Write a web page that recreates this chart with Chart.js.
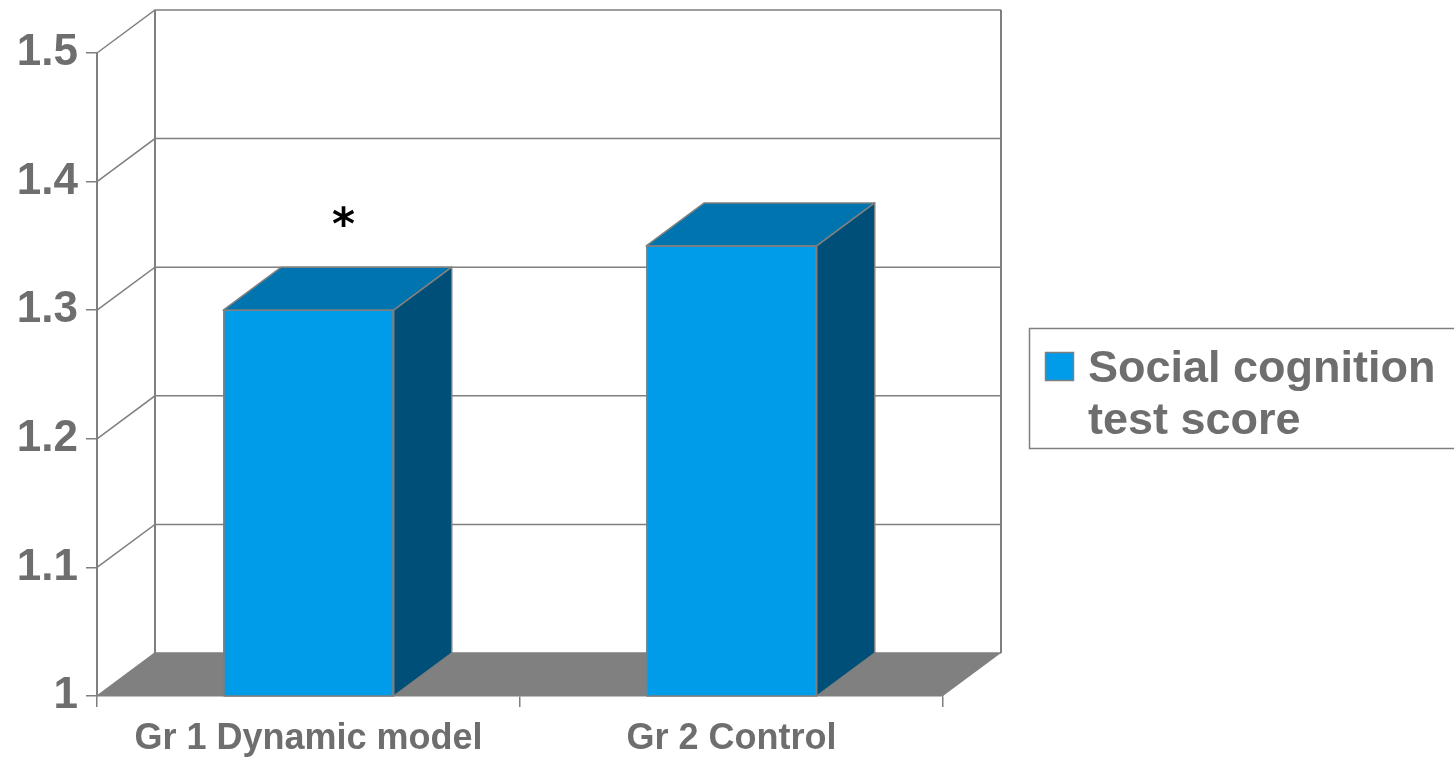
<!DOCTYPE html>
<html>
<head>
<meta charset="utf-8">
<script src="https://cdn.jsdelivr.net/npm/chart.js@4"></script>
<style>
  body { margin: 0; background: #fff; }
  #wrap { width: 1454px; height: 759px; position: relative; }
</style>
</head>
<body>
<div id="wrap"><canvas id="scoreChart"></canvas></div>
<script>
const groups = ["Gr 1 Dynamic model", "Gr 2 Control"];
const socialScores = [1.3, 1.35];
const marks = ["*", ""]; // significance mark over each bar
const legendLines = ["Social cognition", "test score"];
const yMin = 1;
const yMax = 1.5;
const yStep = 0.1;

// 3d depth of the plot box
const DX = 58, DY = 43;
const lineGrey = "#7f7f7f";
const textGrey = "#6e6e6e";
const frontBlue = "#009be9";
const topBlue = "#0074ae";
const sideBlue = "#004f78";
const floorGrey = "#808080";
const fontFam = "'Liberation Sans', Arial, sans-serif";

const wallPlugin = {
  id: "walls",
  beforeDatasetsDraw(chart) {
    const ctx = chart.ctx, a = chart.chartArea, ys = chart.scales.y;
    ctx.save();
    ctx.strokeStyle = lineGrey;
    ctx.lineWidth = 1.5;
    ys.ticks.forEach((t) => {
      const py = ys.getPixelForValue(t.value);
      ctx.beginPath();
      ctx.moveTo(a.left, py);
      ctx.lineTo(a.left + DX, py - DY);
      ctx.lineTo(a.right + DX, py - DY);
      ctx.stroke();
    });
    ctx.lineWidth = 2;
    ctx.beginPath();
    ctx.moveTo(a.left + DX, a.top - DY);
    ctx.lineTo(a.left + DX, a.bottom - DY);
    ctx.moveTo(a.right + DX, a.top - DY);
    ctx.lineTo(a.right + DX, a.bottom - DY);
    ctx.stroke();
    // floor
    ctx.fillStyle = floorGrey;
    ctx.beginPath();
    ctx.moveTo(a.left, a.bottom);
    ctx.lineTo(a.right, a.bottom);
    ctx.lineTo(a.right + DX, a.bottom - DY);
    ctx.lineTo(a.left + DX, a.bottom - DY);
    ctx.closePath();
    ctx.fill();
    ctx.restore();
  },
  afterDatasetsDraw(chart) {
    const ctx = chart.ctx;
    const meta = chart.getDatasetMeta(0);
    const floorY = chart.scales.y.getPixelForValue(yMin);
    ctx.save();
    ctx.strokeStyle = lineGrey;
    ctx.lineWidth = 1.5;
    ctx.lineJoin = "round";
    meta.data.forEach((bar, i) => {
      const p = bar.getProps(["x", "y", "width"], true);
      const base = floorY;
      const l = p.x - p.width / 2, r = p.x + p.width / 2;
      ctx.fillStyle = topBlue;
      ctx.beginPath();
      ctx.moveTo(l, p.y);
      ctx.lineTo(l + DX, p.y - DY);
      ctx.lineTo(r + DX, p.y - DY);
      ctx.lineTo(r, p.y);
      ctx.closePath();
      ctx.fill();
      ctx.stroke();
      ctx.fillStyle = sideBlue;
      ctx.beginPath();
      ctx.moveTo(r, p.y);
      ctx.lineTo(r + DX, p.y - DY);
      ctx.lineTo(r + DX, base - DY);
      ctx.lineTo(r, base);
      ctx.closePath();
      ctx.fill();
      ctx.stroke();
      ctx.strokeRect(l + 0.75, p.y, p.width - 1.5, base - p.y);

      if (marks[i]) {
        ctx.font = "bold 44px 'DejaVu Sans', sans-serif";
        ctx.fillStyle = "#000";
        ctx.textAlign = "center";
        ctx.textBaseline = "alphabetic";
        const m = ctx.measureText(marks[i]);
        const cy = p.y - DY - 51;
        ctx.fillText(marks[i], p.x + DX / 2 + 6, cy + (m.actualBoundingBoxAscent - m.actualBoundingBoxDescent) / 2);
      }
    });
    ctx.restore();
  },
  afterDraw(chart) {
    const ctx = chart.ctx;
    ctx.save();
    ctx.strokeStyle = lineGrey;
    ctx.lineWidth = 1.5;
    ctx.strokeRect(1029.5, 328.5, 500, 120);
    ctx.fillStyle = frontBlue;
    ctx.fillRect(1045, 352, 29, 29);
    ctx.strokeRect(1045.5, 352.5, 28, 28);
    ctx.font = "bold 45px " + fontFam;
    ctx.fillStyle = textGrey;
    ctx.textBaseline = "alphabetic";
    legendLines.forEach((line, i) => ctx.fillText(line, 1088, 382 + i * 52));
    ctx.restore();
  }
};

const ctx = document.getElementById("scoreChart");
const scoreChart = new Chart(ctx, {
  type: "bar",
  data: {
    labels: groups,
    datasets: [
      {
        label: legendLines.join(" "),
        data: socialScores,
        backgroundColor: frontBlue,
        borderWidth: 0,
        categoryPercentage: 1,
        barPercentage: 0.403,
      },
    ],
  },
  options: {
    responsive: true,
    maintainAspectRatio: false,
    animation: false,
    layout: { padding: { top: 53, right: 511, left: 0, bottom: 0 } },
    plugins: {
      legend: { display: false },
      tooltip: { enabled: false },
    },
    scales: {
      x: {
        grid: { drawOnChartArea: false, tickLength: 11, color: lineGrey, lineWidth: 1.5 },
        border: { color: lineGrey, width: 1.5 },
        ticks: {
          color: textGrey,
          padding: 14,
          font: { family: fontFam, size: 36, weight: "bold", lineHeight: 1 },
        },
        afterFit(scale) {
          scale.height = 63;
        },
      },
      y: {
        min: yMin,
        max: yMax,
        grid: { drawOnChartArea: false, tickLength: 11, color: lineGrey, lineWidth: 1.5 },
        border: { color: lineGrey, width: 2 },
        ticks: {
          stepSize: yStep,
          color: textGrey,
          padding: 8,
          font: { family: fontFam, size: 44, weight: "bold" },
          callback: (v) => String(Math.round(v * 10) / 10),
        },
        afterFit(scale) {
          scale.width = 97;
        },
      },
    },
  },
  plugins: [wallPlugin],
});
</script>
</body>
</html>
